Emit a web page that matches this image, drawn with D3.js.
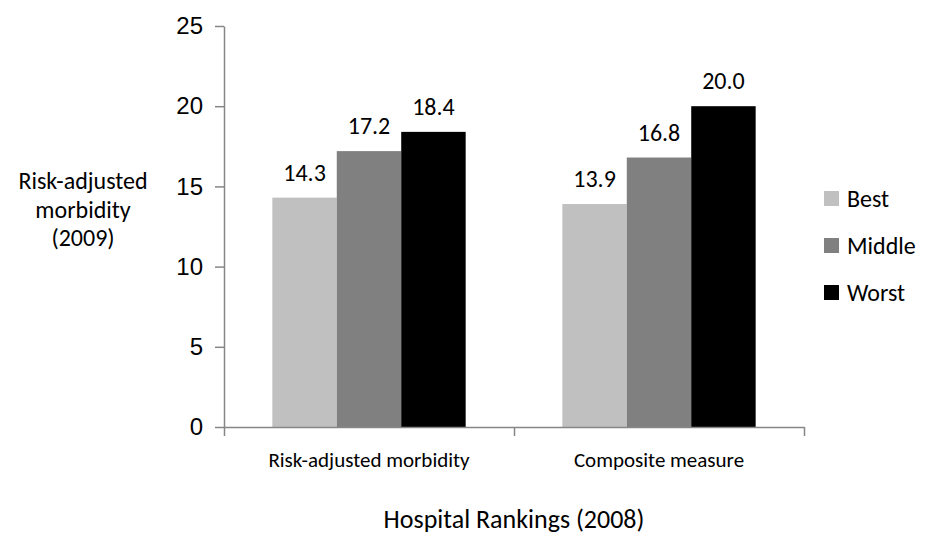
<!DOCTYPE html>
<html>
<head>
<meta charset="utf-8">
<script src="https://cdn.jsdelivr.net/npm/d3@7"></script>
<style>
  html, body { margin: 0; padding: 0; background: #fff; }
  svg { display: block; font-family: Carlito, Calibri, Lato, "Open Sans", sans-serif; }
</style>
</head>
<body>
<svg id="chart" width="929" height="536"></svg>
<script>
// Hospital ranking groups (2008) vs risk-adjusted morbidity (2009)
const categories = ["Risk-adjusted morbidity", "Composite measure"];
const series = ["Best", "Middle", "Worst"];
const bestValues = [14.3, 13.9];
const middleValues = [17.2, 16.8];
const worstValues = [18.4, 20.0];
const yTicks = [0, 5, 10, 15, 20, 25];
const colors = { Best: "#c0c0c0", Middle: "#808080", Worst: "#000000" };

const valuesBySeries = { Best: bestValues, Middle: middleValues, Worst: worstValues };
const rows = categories.map((c, i) => ({
  category: c,
  values: series.map(s => ({ series: s, value: valuesBySeries[s][i] }))
}));

const svg = d3.select("#chart");
const plot = { left: 224, right: 804, top: 26, bottom: 427 };
const axisColor = "#868686";

const x0 = d3.scaleBand().domain(categories).range([plot.left, plot.right]).padding(0);
const x1 = d3.scaleBand().domain(series).range([0, x0.bandwidth()]).paddingInner(0).paddingOuter(0.75);
const y = d3.scaleLinear().domain([0, 25]).range([plot.bottom, plot.top]);

// Bars
const groups = svg.append("g").selectAll("g").data(rows).join("g")
  .attr("transform", d => `translate(${x0(d.category)},0)`);

groups.selectAll("rect").data(d => d.values).join("rect")
  .attr("x", d => x1(d.series))
  .attr("y", d => y(d.value))
  .attr("width", x1.bandwidth())
  .attr("height", d => y(0) - y(d.value))
  .attr("fill", d => colors[d.series]);

// Value labels
groups.selectAll("text").data(d => d.values).join("text")
  .attr("x", d => x1(d.series) + x1.bandwidth() / 2)
  .attr("y", d => y(d.value) - 17)
  .attr("text-anchor", "middle")
  .attr("font-size", 24)
  .attr("fill", "#000")
  .text(d => d.value.toFixed(1));

// Y axis
const yAxis = svg.append("g")
  .attr("transform", `translate(${plot.left},0)`)
  .call(d3.axisLeft(y).tickValues(yTicks).tickSize(9).tickSizeOuter(0).tickPadding(12));
yAxis.select(".domain").attr("stroke", axisColor).attr("stroke-width", 1.5);
yAxis.selectAll(".tick line").attr("stroke", axisColor).attr("stroke-width", 1.5);
yAxis.selectAll(".tick text").attr("font-size", 24).attr("fill", "#000")
  .attr("font-family", null);

// X axis: tick marks at category boundaries
const xb = d3.scaleLinear().domain([0, categories.length]).range([plot.left, plot.right]);
const xAxis = svg.append("g")
  .attr("transform", `translate(0,${plot.bottom})`)
  .call(d3.axisBottom(xb).tickValues(d3.range(categories.length + 1)).tickFormat("").tickSize(9).tickSizeOuter(0));
xAxis.select(".domain").attr("stroke", axisColor).attr("stroke-width", 1.5);
xAxis.selectAll(".tick line").attr("stroke", axisColor).attr("stroke-width", 1.5);

// Category labels
svg.append("g").selectAll("text").data(categories).join("text")
  .attr("x", d => x0(d) + x0.bandwidth() / 2)
  .attr("y", 467)
  .attr("text-anchor", "middle")
  .attr("font-size", 21)
  .attr("fill", "#000")
  .text(d => d);

// X axis title
svg.append("text")
  .attr("x", (plot.left + plot.right) / 2)
  .attr("y", 528)
  .attr("text-anchor", "middle")
  .attr("font-size", 26)
  .attr("fill", "#000")
  .text("Hospital Rankings (2008)");

// Y axis title
const yTitle = svg.append("text")
  .attr("text-anchor", "middle")
  .attr("font-size", 24)
  .attr("fill", "#000");
["Risk-adjusted", "morbidity", "(2009)"].forEach((line, i) => {
  yTitle.append("tspan").attr("x", 83).attr("y", 189 + i * 28.5).text(line);
});

// Legend
const legend = svg.append("g").selectAll("g").data(series).join("g")
  .attr("transform", (d, i) => `translate(824,${198.5 + i * 47})`);
legend.append("rect")
  .attr("x", 0).attr("y", -7.5)
  .attr("width", 15).attr("height", 15)
  .attr("fill", d => colors[d]);
legend.append("text")
  .attr("x", 23).attr("y", 8.5)
  .attr("font-size", 24)
  .attr("fill", "#000")
  .text(d => d);
</script>
</body>
</html>
